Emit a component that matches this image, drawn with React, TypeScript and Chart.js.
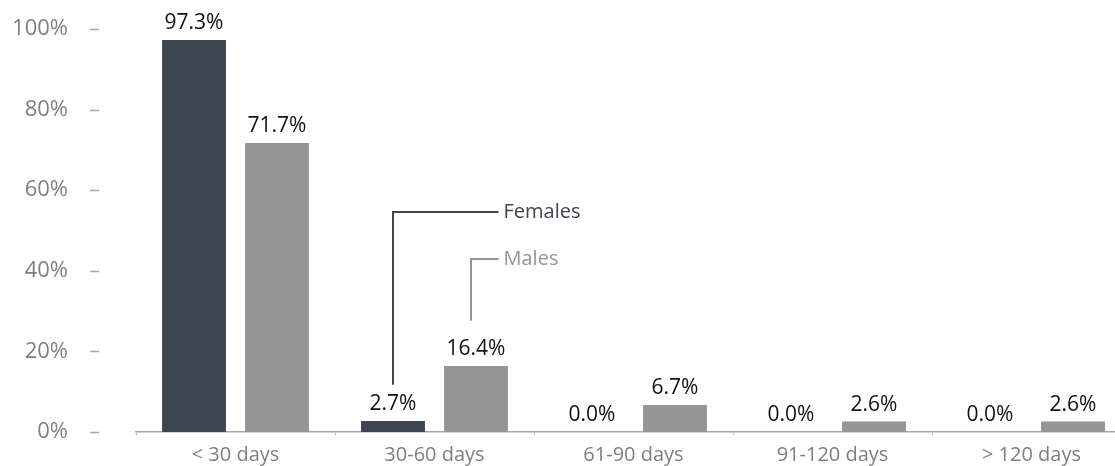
import React, { useEffect, useRef } from "react";
import { Chart, registerables } from "chart.js";

Chart.register(...registerables);

const categories = ["< 30 days", "30-60 days", "61-90 days", "91-120 days", "> 120 days"];
const females = [97.3, 2.7, 0.0, 0.0, 0.0];
const males = [71.7, 16.4, 6.7, 2.6, 2.6];
const yTicks = [0, 20, 40, 60, 80, 100];
const seriesNames = ["Females", "Males"];
// callout anchor values (percent) for the series labels
const femaleCallout = { cat: 1, from: 11.7, to: 54.6 };
const maleCallout = { cat: 1, from: 27.6, to: 42.9 };

const FEMALE_COLOR = "#3d4551";
const MALE_COLOR = "#959595";
const FONT = "'Open Sans', 'DejaVu Sans', sans-serif";

export default function App() {
  const ref = useRef<HTMLCanvasElement | null>(null);

  useEffect(() => {
    const canvas = ref.current;
    if (!canvas) return;

    const labelPlugin = {
      id: "labelsAndCallouts",
      afterDraw(chart: any) {
        const ctx = chart.ctx;
        const ys = chart.scales.y;
        const xs = chart.scales.x;
        ctx.save();
        // y tick dashes
        ctx.strokeStyle = "#a6a6a6";
        ctx.lineWidth = 1.5;
        yTicks.forEach((v) => {
          const y = Math.round(ys.getPixelForValue(v)) + 0.5;
          ctx.beginPath();
          ctx.moveTo(90, y);
          ctx.lineTo(99, y);
          ctx.stroke();
        });
        // data labels
        ctx.font = `21px ${FONT}`;
        ctx.fillStyle = "#111111";
        ctx.textAlign = "center";
        ctx.textBaseline = "alphabetic";
        chart.data.datasets.forEach((ds: any, di: number) => {
          const meta = chart.getDatasetMeta(di);
          meta.data.forEach((bar: any, i: number) => {
            const v = ds.data[i];
            ctx.fillText(v.toFixed(1) + "%", bar.x, bar.y - 11);
          });
        });
        // callouts
        const drawCallout = (c: any, dx: number, color: string, name: string) => {
          const cx = xs.getPixelForValue(c.cat);
          const x = Math.round(cx + dx);
          const y1 = ys.getPixelForValue(c.from);
          const y2 = Math.round(ys.getPixelForValue(c.to));
          const xEnd = cx + 64;
          ctx.strokeStyle = color;
          ctx.lineWidth = 2;
          ctx.beginPath();
          ctx.moveTo(x, y1);
          ctx.lineTo(x, y2);
          ctx.lineTo(xEnd, y2);
          ctx.stroke();
          ctx.fillStyle = color;
          ctx.font = `20px ${FONT}`;
          ctx.textAlign = "left";
          ctx.textBaseline = "middle";
          ctx.fillText(name, xEnd + 5, y2);
        };
        drawCallout(femaleCallout, -41.5, FEMALE_COLOR, seriesNames[0]);
        drawCallout(maleCallout, 36, MALE_COLOR, seriesNames[1]);
        ctx.restore();
      },
    };

    const chart = new Chart(canvas, {
      type: "bar",
      data: {
        labels: categories,
        datasets: [
          {
            label: seriesNames[0],
            data: females,
            backgroundColor: FEMALE_COLOR,
            borderWidth: 0,
            categoryPercentage: 0.834,
            barPercentage: 0.77,
          },
          {
            label: seriesNames[1],
            data: males,
            backgroundColor: MALE_COLOR,
            borderWidth: 0,
            categoryPercentage: 0.834,
            barPercentage: 0.77,
          },
        ],
      },
      options: {
        responsive: false,
        animation: false,
        devicePixelRatio: 1,
        layout: { padding: { top: 29, right: 14, left: 0, bottom: 0 } },
        plugins: {
          legend: { display: false },
          title: { display: false },
          tooltip: { enabled: false },
        },
        scales: {
          x: {
            afterFit(scale: any) {
              scale.height = 34;
              scale.paddingLeft = 0;
              scale.paddingRight = 0;
            },
            grid: {
              offset: true,
              drawOnChartArea: false,
              drawTicks: true,
              tickLength: 3,
              color: "#bfbfbf",
            },
            border: { display: true, color: "#a6a6a6", width: 1.5 },
            ticks: {
              color: "#7f7f7f",
              font: { family: FONT, size: 20 },
              padding: 8,
              maxRotation: 0,
              autoSkip: false,
            },
          },
          y: {
            min: 0,
            max: 100,
            afterFit(scale: any) {
              scale.width = 136;
              scale.paddingTop = 0;
              scale.paddingBottom = 0;
            },
            afterBuildTicks(scale: any) {
              scale.ticks = yTicks.map((v) => ({ value: v }));
            },
            grid: { display: false, drawTicks: false },
            border: { display: false },
            ticks: {
              color: "#7f7f7f",
              font: { family: FONT, size: 22 },
              padding: 68,
              callback: (v: any) => v + "%",
            },
          },
        },
      },
      plugins: [labelPlugin],
    });

    return () => chart.destroy();
  }, []);

  return (
    <div
      style={{
        position: "fixed",
        left: 0,
        top: 0,
        width: 1115,
        height: 466,
        overflow: "hidden",
        background: "#ffffff",
      }}
    >
      <canvas ref={ref} width={1145} height={466} style={{ width: 1145, height: 466, display: "block" }} />
    </div>
  );
}
